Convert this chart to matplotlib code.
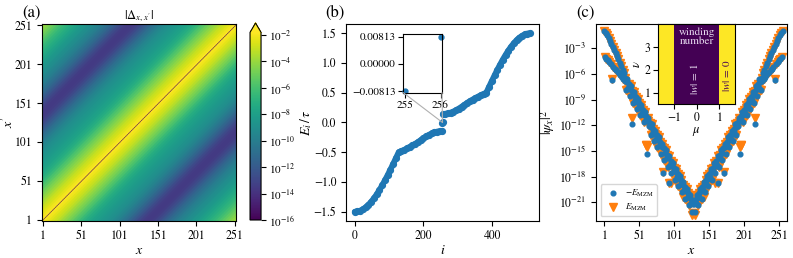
import numpy as np
import matplotlib
matplotlib.use("Agg")
import matplotlib.pyplot as plt
from matplotlib.colors import LogNorm
from matplotlib.patches import ConnectionPatch
from matplotlib.ticker import NullLocator

plt.rcParams['font.family'] = 'STIXGeneral'
plt.rcParams['mathtext.fontset'] = 'stix'
plt.rcParams['font.size'] = 8.5
plt.rcParams['axes.labelsize'] = 10

# (a) log10 |Delta_{x,x'}| as a function of |x - x'|, one value per 4 sites
delta_profile = np.array([
    -1.9, -2.1, -2.4, -2.7, -3.0, -3.4, -3.8, -4.2,
    -4.6, -5.0, -5.5, -5.9, -6.4, -6.8, -7.2, -7.5,
    -7.8, -8.0, -8.2, -8.4, -8.6, -8.8, -9.0, -9.3,
    -9.6, -10.0, -10.4, -10.8, -11.3, -11.8, -12.3, -12.8,
    -13.2, -13.5, -13.6, -13.6, -13.4, -13.1, -12.7, -12.2,
    -11.7, -11.2, -10.8, -10.4, -10.0, -9.7, -9.4, -9.1,
    -8.9, -8.6, -8.4, -8.1, -7.8, -7.5, -7.2, -6.9,
    -6.6, -6.2, -5.8, -5.4, -5.0, -4.6, -4.2, -3.8])
n_sites = 256
site_ticks = [1, 51, 101, 151, 201, 251]

# (b) BdG spectrum, sampled every 8 levels
i_lo = np.r_[np.arange(0, 256, 8), 254]
e_lo = [-1.500, -1.495, -1.481, -1.457, -1.424, -1.382, -1.331, -1.273,
        -1.207, -1.134, -1.056, -0.971, -0.883, -0.790, -0.695, -0.598,
        -0.500, -0.480, -0.460, -0.435, -0.410, -0.385, -0.358, -0.329,
        -0.296, -0.264, -0.234, -0.207, -0.184, -0.166, -0.153, -0.145,
        -0.142]
i_hi = np.r_[257, np.arange(263, 512, 8)]
e_hi = [0.142, 0.145, 0.153, 0.166, 0.184, 0.207, 0.234, 0.264,
        0.296, 0.329, 0.358, 0.385, 0.410, 0.435, 0.460, 0.480,
        0.500, 0.598, 0.695, 0.790, 0.883, 0.971, 1.056, 1.134,
        1.207, 1.273, 1.331, 1.382, 1.424, 1.457, 1.481, 1.495,
        1.500]
i_zero = [255, 256]
e_zero = [-0.00813, 0.00813]

# (c) log10 |psi_x|^2 of the MZM, sites 1..128 (chain is mirror symmetric)
psi_minus_left = np.array([
    -0.95, -4.00, -1.20, -4.20, -1.50, -4.40, -1.80, -4.60, -2.10, -4.80,
    -2.45, -6.70, -2.80, -5.20, -3.15, -5.40, -3.50, -5.55, -3.90, -5.75,
    -4.30, -5.95, -4.70, -6.15, -5.10, -6.35, -5.50, -6.60,
    -5.90, -6.85, -6.45, -7.85, -7.00, -6.65, -7.60, -7.20, -8.60, -7.75,
    -7.40, -11.80, -7.95, -9.35, -8.50, -8.15, -9.10, -8.70, -10.10, -9.25,
    -8.90, -9.85, -9.45, -10.85, -10.00, -9.65, -10.60, -10.20, -11.60, -10.75,
    -10.40, -11.35, -10.95, -15.40, -11.50, -11.15, -12.10, -11.70, -13.10, -12.25,
    -11.90, -12.85, -12.45, -13.85, -13.00, -12.65, -13.60, -13.20, -14.60, -13.75,
    -13.40, -14.35, -13.95, -15.35, -14.50, -14.15, -17.60, -14.70, -16.10, -15.25,
    -14.90, -15.85, -15.45, -16.85, -18.70, -15.65, -16.60, -16.20, -17.60, -16.75,
    -16.40, -17.35, -16.95, -18.35, -17.50, -17.15, -18.10, -17.70, -19.10, -18.25,
    -17.90, -18.85, -18.45, -19.85, -19.00, -18.65, -19.60, -19.20, -20.60, -19.75,
    -19.40, -20.35, -19.95, -21.35, -20.50, -20.15, -21.10, -20.70, -22.10, -21.25])
# sites where the +E state differs from the -E state
psi_plus_changes = {12: -6.60, 33: -7.90, 34: -7.90, 35: -7.90, 40: -11.20,
                    60: -14.30, 61: -14.30, 62: -14.60, 85: -17.50, 97: -18.70,
                    114: -20.40, 127: -22.50, 128: -22.30}

# (c) inset: winding number vs mu
mu_edges = [-1.7, -1.0, 1.0, 1.7]
nu_edges = [0.5, 4.0]
winding = [[0, 1, 0]]

fig = plt.figure(figsize=(7.93, 2.58), dpi=100)

# ---- (a)
ax_a = fig.add_axes([0.0526, 0.1434, 0.245, 0.7624])
x = np.arange(1, n_sites + 1)
k = np.abs(x[:, None] - x[None, :])
delta = 10.0 ** delta_profile[k // 4]
delta[k == 0] = 1e-20
im = ax_a.imshow(delta, origin='lower', cmap='viridis',
                 norm=LogNorm(vmin=1e-16, vmax=1.6e-2),
                 extent=(-0.5, n_sites - 3.5, -0.5, n_sites - 3.5), aspect='auto')
ax_a.set_xticks(site_ticks)
ax_a.set_yticks(site_ticks)
ax_a.set_xlabel(r'$x$', labelpad=1)
ax_a.set_ylabel(r"$x'$", labelpad=-1)
ax_a.set_title(r"$|\Delta_{x,x'}|$", fontsize=9, pad=2)
cax = fig.add_axes([0.3153, 0.1473, 0.0139, 0.7636])
cb = fig.colorbar(im, cax=cax, extend='max',
                  ticks=[1e-16, 1e-14, 1e-12, 1e-10, 1e-8, 1e-6, 1e-4, 1e-2])
cax.yaxis.set_minor_locator(NullLocator())
cax.tick_params(labelsize=8, pad=2)

# ---- (b)
ax_b = fig.add_axes([0.4363, 0.1446, 0.2434, 0.7612])
for ii, ee in [(i_lo, e_lo), (i_hi, e_hi)]:
    ax_b.plot(ii, ee, '-o', color='#1f77b4', ms=4.2, lw=4.2, solid_capstyle='round')
ax_b.plot(i_zero, e_zero, 'o', color='#1f77b4', ms=4.2)
ax_b.set_xticks([0, 200, 400])
ax_b.set_yticks([-1.5, -1.0, -0.5, 0.0, 0.5, 1.0, 1.5])
ax_b.set_ylim(-1.65, 1.65)
ax_b.set_xlim(-25.5, 536.5)
ax_b.set_xlabel(r'$i$', labelpad=1)
ax_b.set_ylabel(r'$E_i\,/\,\tau$', labelpad=0)

axin_b = fig.add_axes([0.5086, 0.6407, 0.0488, 0.2264])
axin_b.plot(i_zero, e_zero, 'o', color='#1f77b4', ms=3.5, clip_on=False)
axin_b.set_xlim(254.96, 256.04)
axin_b.set_ylim(-0.0087, 0.0088)
axin_b.set_xticks([255, 256])
axin_b.set_yticks([-0.00813, 0.0, 0.00813])
axin_b.set_yticklabels(['\u22120.00813', '0.00000', '0.00813'])
axin_b.tick_params(labelsize=8, pad=2)
for xa in (0, 1):
    con = ConnectionPatch(xyA=(xa, 0), coordsA=axin_b.transAxes,
                          xyB=(255.5, 0.0), coordsB=ax_b.transData,
                          color='#b0b0b0', lw=0.8)
    fig.add_artist(con)

# ---- (c)
ax_c = fig.add_axes([0.7516, 0.1434, 0.2405, 0.7624])
psi_plus_left = psi_minus_left.copy()
for site, val in psi_plus_changes.items():
    psi_plus_left[site - 1] = val
psi_minus = 10.0 ** np.r_[psi_minus_left, psi_minus_left[::-1]]
psi_plus = 10.0 ** np.r_[psi_plus_left, psi_plus_left[::-1]]
h_plus, = ax_c.plot(x, psi_plus, 'v', color='#ff7f0e', ms=5.5, ls='none',
                    label=r'$E_{\mathrm{MZM}}$')
h_minus, = ax_c.plot(x, psi_minus, 'o', color='#1f77b4', ms=3.4, ls='none',
                     label=r'$-E_{\mathrm{MZM}}$')
ax_c.set_yscale('log')
ax_c.set_ylim(10 ** -23.2, 10 ** -0.2)
ax_c.set_yticks([1e-21, 1e-18, 1e-15, 1e-12, 1e-9, 1e-6, 1e-3])
ax_c.yaxis.set_minor_locator(NullLocator())
ax_c.set_xlim(-11, 262)
ax_c.set_xticks(site_ticks)
ax_c.set_xlabel(r'$x$', labelpad=1)
ax_c.set_ylabel(r'$|\psi_x|^2$', labelpad=1)
ax_c.legend(handles=[h_minus, h_plus], loc='lower left', fontsize=6.5,
            handletextpad=0.3, borderpad=0.4, labelspacing=0.3)

axin_c = fig.add_axes([0.8301, 0.5958, 0.0967, 0.3101])
axin_c.pcolormesh(mu_edges, nu_edges, winding, cmap='viridis_r', vmin=0, vmax=1)
axin_c.set_xlim(-1.7, 1.7)
axin_c.set_ylim(0.5, 4.0)
axin_c.set_xticks([-1, 0, 1])
axin_c.set_yticks([1, 2, 3])
axin_c.tick_params(labelsize=8.5, pad=2)
axin_c.set_xlabel(r'$\mu$', labelpad=1, fontsize=9)
axin_c.set_ylabel(r'$\nu$', labelpad=1, fontsize=9)
axin_c.text(0.0, 3.45, 'winding\nnumber', color='#e8dcf0', ha='center',
            va='center', fontsize=8, linespacing=0.95)
axin_c.text(-0.1, 1.6, r'$|w|$ = 1', color='#e8dcf0', ha='center',
            va='center', rotation=90, fontsize=8)
axin_c.text(1.33, 1.75, r'$|w|$ = 0', color='#440154', ha='center',
            va='center', rotation=90, fontsize=8)

fig.text(0.040, 0.95, '(a)', fontsize=12, ha='center', va='center')
fig.text(0.4225, 0.95, '(b)', fontsize=12, ha='center', va='center')
fig.text(0.7377, 0.95, '(c)', fontsize=12, ha='center', va='center')

fig.savefig('out.png', dpi=100)
